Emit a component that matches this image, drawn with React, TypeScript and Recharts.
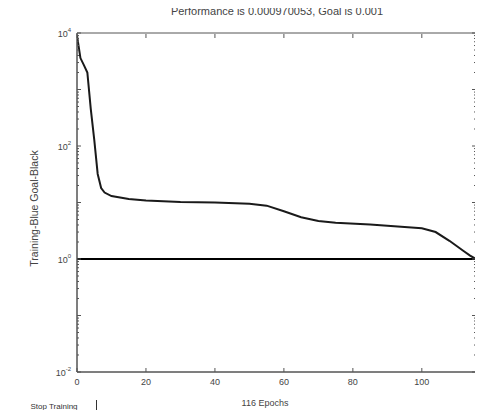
import { LineChart, Line, XAxis, YAxis, ReferenceLine, ReferenceArea, Label } from 'recharts'

// training record
const epochs = [0, 1, 2, 3, 4, 5, 6, 7, 8, 10, 15, 20, 30, 40, 50, 55, 60, 65, 70, 75, 85, 95, 100, 104, 108, 112, 114, 116]
const trainPerf = [9000, 3600, 2700, 2000, 450, 130, 32, 18, 15, 13, 11.5, 10.8, 10.2, 10, 9.5, 8.8, 7, 5.5, 4.7, 4.4, 4.1, 3.7, 3.5, 3.0, 2.1, 1.4, 1.15, 0.97]
const goal = 1

const xTicks = [0, 20, 40, 60, 80, 100]
const yDecades = [-2, -1, 0, 1, 2, 3, 4]
const yLabelled = [-2, 0, 2, 4]

const data = epochs.map((e, i) => ({ epoch: e, perf: trainPerf[i] }))

// decade ticks plus log minor ticks
const yTicks: number[] = []
yDecades.forEach((d) => {
  yTicks.push(Math.pow(10, d))
  if (d < 4) for (let m = 2; m <= 9; m++) yTicks.push(m * Math.pow(10, d))
})

const AXIS = '#555'
const TXT = '#444'
const FONT = '"Liberation Sans", Arial, sans-serif'

function decadeOf(v: number) {
  const e = Math.log10(v)
  return Math.abs(e - Math.round(e)) < 1e-9 ? Math.round(e) : null
}

function LeftTick({ x, y, payload }: any) {
  const d = decadeOf(payload.value)
  const len = d !== null ? 4 : 2
  return (
    <g>
      <line x1={x} x2={x + len} y1={y} y2={y} stroke={AXIS} strokeWidth={1} />
      {d !== null && yLabelled.includes(d) && (
        <text x={x - 6} y={y + 4} textAnchor="end" fontSize={9} fill={TXT} fontFamily={FONT}>
          10<tspan dy={-5} fontSize={6}>{d}</tspan>
        </text>
      )}
    </g>
  )
}

function RightTick({ x, y, payload }: any) {
  const len = decadeOf(payload.value) !== null ? 4 : 2
  return <line x1={x - 1} x2={x - 1 - len} y1={y} y2={y} stroke={AXIS} strokeWidth={1} />
}

function BottomTick({ x, y, payload }: any) {
  return (
    <g>
      <line x1={x} x2={x} y1={y} y2={y - 4} stroke={AXIS} strokeWidth={1} />
      <text x={x} y={y + 13} textAnchor="middle" fontSize={9} fill={TXT} fontFamily={FONT}>
        {payload.value}
      </text>
    </g>
  )
}

function TopTick({ x, y }: any) {
  return <line x1={x} x2={x} y1={y + 1} y2={y + 5} stroke={AXIS} strokeWidth={1} />
}

export default function App() {
  return (
    <div style={{ position: 'relative', width: 483, height: 418, margin: -8, background: '#fff' }}>
      <LineChart width={483} height={418} data={data} margin={{ top: 32, right: 5, bottom: 16, left: 17 }}>
        <text x={277} y={15} textAnchor="middle" fontSize={11} fill={TXT} fontFamily={FONT}>
          Performance is 0.000970053, Goal is 0.001
        </text>
        <XAxis
          dataKey="epoch"
          type="number"
          domain={[0, 116]}
          ticks={xTicks}
          allowDataOverflow
          height={30}
          stroke={AXIS}
          tickLine={false}
          tickSize={0}
          tickMargin={0}
          tick={<BottomTick />}
        >
          <Label value="116 Epochs" position="insideBottom" offset={-4} dx={-12} fontSize={9} fill={TXT} fontFamily={FONT} />
        </XAxis>
        <XAxis
          xAxisId="top"
          orientation="top"
          dataKey="epoch"
          type="number"
          domain={[0, 116]}
          ticks={xTicks}
          allowDataOverflow
          height={1}
          axisLine={false}
          tickLine={false}
          tickSize={0}
          tickMargin={0}
          tick={<TopTick />}
        />
        <YAxis
          scale="log"
          type="number"
          domain={[0.01, 10000]}
          ticks={yTicks}
          allowDataOverflow
          width={60}
          stroke={AXIS}
          tickLine={false}
          tickSize={0}
          tickMargin={0}
          interval={0}
          tick={<LeftTick />}
        >
          <Label
            value="Training-Blue  Goal-Black"
            angle={-90}
            position="insideLeft"
            dx={12}
            dy={6}
            style={{ textAnchor: 'middle' }}
            fontSize={10.5}
            fill={TXT}
            fontFamily={FONT}
          />
        </YAxis>
        <YAxis
          yAxisId="right"
          orientation="right"
          scale="log"
          type="number"
          domain={[0.01, 10000]}
          ticks={yTicks}
          allowDataOverflow
          width={1}
          axisLine={false}
          tickLine={false}
          tickSize={0}
          tickMargin={0}
          interval={0}
          tick={<RightTick />}
        />
        <ReferenceArea x1={0} x2={116} y1={0.01} y2={10000} fill="none" stroke={AXIS} strokeWidth={1} ifOverflow="visible" />
        <ReferenceLine y={goal} stroke="#000" strokeWidth={2} />
        <Line
          dataKey="perf"
          type="linear"
          stroke="#1a1a1a"
          strokeWidth={2}
          dot={false}
          isAnimationActive={false}
        />
      </LineChart>
      <div
        style={{
          position: 'absolute',
          left: 12,
          top: 400,
          width: 84,
          height: 13,
          borderBottom: '1px solid #333',
          borderRight: '1px solid #333',
          fontFamily: FONT,
          fontSize: 8,
          color: '#333',
          lineHeight: '13px',
          textAlign: 'center',
        }}
      >
        <span style={{ textDecoration: 'underline' }}>Stop Training</span>
      </div>
    </div>
  )
}
